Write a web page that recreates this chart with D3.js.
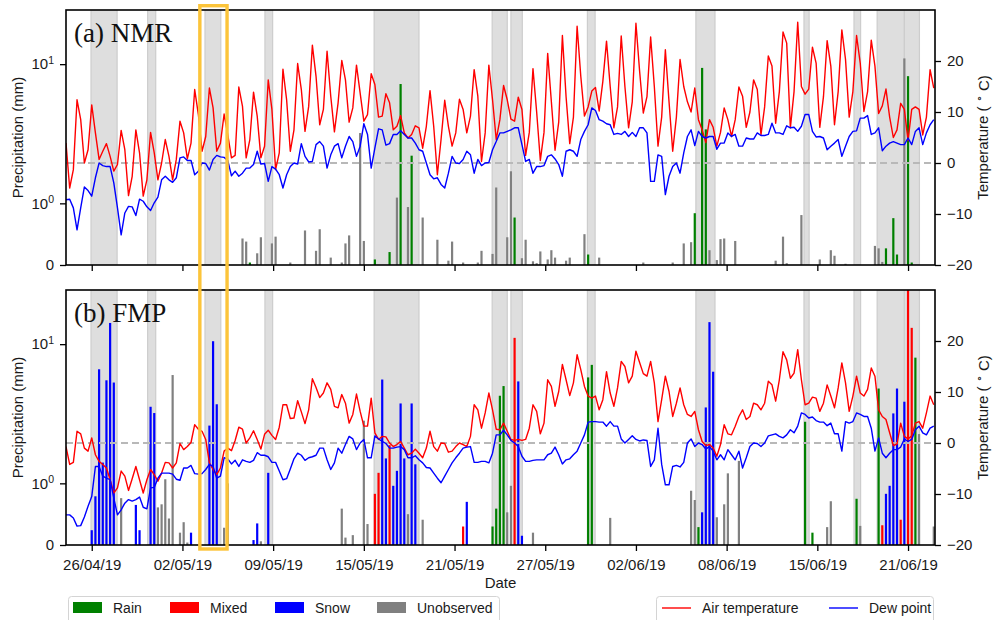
<!DOCTYPE html>
<html>
<head>
<meta charset="utf-8">
<script src="https://cdn.jsdelivr.net/npm/d3@7"></script>
<style>
  body { margin: 0; background: #fff; }
  svg { display: block; font-family: "Liberation Sans", Arial, Helvetica, sans-serif; }
</style>
</head>
<body>
<svg id="chart" width="993" height="620"></svg>
<script>
// ---- Time base: 6-hourly samples (UTC) ----
const seriesStart = "2019-04-25T00:00:00Z";
const stepHours = 6;
const axisEnd = "2019-06-23T02:00:00Z";

const xTickTimes = [
  "2019-04-26T18:00:00Z", "2019-05-02T22:00:00Z", "2019-05-09T02:00:00Z",
  "2019-05-15T06:00:00Z", "2019-05-21T10:00:00Z", "2019-05-27T14:00:00Z",
  "2019-06-02T18:00:00Z", "2019-06-08T22:00:00Z", "2019-06-15T02:00:00Z",
  "2019-06-21T06:00:00Z"
];
const precipTicks = [0, 1, 10];
const precipTickLabels = [["0", ""], ["10", "0"], ["10", "1"]];
const precipMax = 24.5;
const tempTicks = [-20, -10, 0, 10, 20];
const tempRange = [-20, 30];

// Event periods (in sample units), shared by both sites
const eventSpans = [
  [6.8, 13.9], [22.2, 24.4], [37.8, 42.1], [54.1, 56.2], [83.8, 96.0],
  [115.9, 120.0], [121.0, 124.1], [141.8, 143.9], [171.3, 176.5],
  [200.7, 202.1], [214.3, 216.1], [220.6, 228.0], [228.0, 232.1]
];
// Highlighted window (sample units)
const highlightWindow = [36.4, 43.8];

// ---- NMR: air temperature and dew point (°C), one row per day ----
const nmrAir = [
  3.9, -4.9, -1.3, 12.4,
  8.5, 0.0, 2.6, 11.4,
  5.9, 0.7, 2.3, 3.8,
  1.3, -1.6, -0.3, 6.4,
  2.6, -6.4, -2.6, 6.5,
  2.0, -6.5, -3.3, 6.0,
  2.0, -3.3, 0.0, 4.6,
  1.3, -3.3, 0.7, 8.2,
  5.9, 0.8, 3.9, 14.4,
  9.5, 2.3, 5.2, 14.7,
  10.8, 2.3, 3.9, 9.6,
  5.5, 1.0, 1.5, 14.9,
  11.1, 1.0, 4.6, 13.9,
  9.2, 1.0, 3.3, 16.3,
  10.5, -1.3, 2.0, 18.4,
  12.4, 2.3, 6.5, 19.5,
  14.4, 6.2, 11.1, 23.1,
  17.0, 7.5, 10.5, 21.9,
  13.1, 6.1, 11.8, 20.1,
  16.3, 8.0, 10.8, 19.2,
  13.7, 8.2, 9.5, 17.5,
  15.4, 9.0, 9.2, 13.6,
  11.8, 6.5, 7.2, 9.3,
  5.9, 4.9, 5.6, 7.3,
  6.9, 2.9, 7.2, 14.2,
  7.2, -2.3, 4.6, 12.3,
  7.2, 3.3, 5.9, 12.5,
  10.5, 5.9, 9.2, 18.3,
  13.1, 0.3, 5.9, 19.2,
  12.4, 4.6, 8.5, 15.2,
  12.4, 8.6, 8.2, 12.9,
  10.5, 1.5, 6.0, 18.5,
  10.0, 0.5, 6.0, 21.5,
  12.0, 2.5, 8.0, 25.0,
  13.0, 3.8, 9.0, 26.8,
  17.0, 9.2, 11.0, 14.1,
  14.8, 10.2, 16.0, 23.9,
  15.0, 6.9, 11.0, 24.9,
  15.0, 6.9, 12.0, 27.4,
  18.0, 9.8, 13.0, 24.7,
  15.0, 3.3, 9.0, 22.2,
  12.0, 2.3, 9.0, 20.3,
  15.0, 12.0, 10.0, 14.7,
  8.5, 6.5, 4.0, 8.5,
  7.0, 3.3, 6.0, 10.8,
  8.5, 5.2, 8.5, 14.9,
  13.1, 7.0, 10.0, 16.3,
  14.4, 5.5, 11.0, 21.0,
  19.0, 7.8, 14.0, 25.7,
  23.5, 6.9, 14.0, 27.6,
  15.0, 13.5, 14.5, 22.7,
  19.6, 7.0, 13.0, 24.0,
  19.0, 7.5, 14.0, 26.1,
  20.3, 9.0, 14.0, 25.0,
  19.6, 10.1, 14.0, 24.1,
  19.0, 9.7, 11.2, 14.5,
  9.0, 5.0, 6.5, 11.7,
  10.5, 4.4, 10.5, 11.0,
  10.5, 5.5, 9.0, 18.3, 14.7
];
const nmrDew = [
  -7.2, -7.1, -8.8, -13.1,
  -8.8, -4.7, -5.4, -6.5,
  -2.9, 0.0, -0.5, -0.7,
  -0.7, -3.9, -8.8, -14.1,
  -9.8, -8.5, -8.6, -10.3,
  -7.1, -7.5, -8.6, -9.3,
  -7.8, -6.7, -3.3, -2.6,
  -3.3, -3.8, -2.9, 1.0,
  1.2, 0.5, 0.5, -2.3,
  -1.6, 0.0, -0.1, -1.4,
  0.7, 1.5, 1.2, 1.1,
  0.5, -2.5, -1.6, -2.6,
  -2.0, -1.0, -1.0, -0.3,
  2.3, -0.2, -0.1, -3.6,
  -0.7, -1.2, -2.3, -4.9,
  -2.3, -0.7, 0.0, -0.2,
  3.8, 1.3, 0.2, 0.3,
  3.6, 4.2, 3.3, -1.0,
  1.6, 3.3, 3.8, 1.0,
  3.3, 5.2, 4.2, 1.3,
  3.3, 7.7, 5.6, -1.0,
  2.9, 6.7, 6.5, 3.5,
  3.8, 5.6, 5.6, 6.3,
  5.6, 4.9, 4.9, 3.9,
  2.6, 2.3, 0.0, -2.3,
  -3.1, -2.9, -4.2, -4.9,
  -2.0, 1.3, 0.0, -0.1,
  0.7, 2.3, 1.6, -2.0,
  0.7, -0.5, 0.0, 0.1,
  2.6, 4.2, 5.9, 5.9,
  6.2, 6.5, 6.9, 6.9,
  3.6, 0.3, 0.7, -2.0,
  -0.7, -0.7, -0.5, 1.3,
  1.6, 0.8, -0.3, -2.6,
  2.3, 2.6, 2.3, 1.3,
  4.6, 6.2, 7.5, 10.8,
  10.3, 8.5, 8.2, 7.7,
  7.5, 5.6, 5.8, 5.6,
  6.2, 5.2, 6.0, 5.2,
  6.9, 6.9, 5.9, -3.6,
  -3.6, 1.6, 1.3, -6.2,
  -2.6, -0.7, 0.0, -2.0,
  2.0, 5.2, 6.5, 3.4,
  6.2, 5.2, 4.9, 5.2,
  5.2, 2.7, 3.9, 3.9,
  5.9, 5.2, 5.6, 3.3,
  3.3, 4.9, 4.7, 4.7,
  5.9, 5.4, 5.4, 5.6,
  7.8, 5.9, 5.9, 5.6,
  7.3, 6.9, 7.0, 6.2,
  7.2, 9.5, 9.5, 6.2,
  5.1, 5.2, 4.9, 2.6,
  3.3, 3.9, 4.6, 1.3,
  3.3, 5.2, 6.2, 6.3,
  8.8, 8.8, 9.3, 5.6,
  5.9, 6.9, 2.4, 3.3,
  3.9, 4.2, 3.9, 3.6,
  3.6, 4.9, 3.6, 6.2,
  6.9, 3.6, 5.9, 7.5, 8.5
];

// ---- FMP: air temperature and dew point (°C), one row per day ----
const fmpAir = [
  -0.7, -4.2, -3.8, 2.3,
  1.8, -1.0, -1.6, 1.0,
  -2.3, -3.6, -4.2, -4.9,
  -7.2, -9.8, -8.8, -5.5,
  -6.5, -9.3, -7.0, -4.6,
  -7.2, -9.8, -7.2, -5.2,
  -6.2, -7.5, -5.9, -3.8,
  -3.9, -4.9, -3.9, -0.1,
  -1.3, -0.7, 0.1, 3.6,
  2.7, 2.3, 0.7, -3.9,
  -5.2, -6.2, -4.9, -1.6,
  -1.0, -1.5, 0.5, 3.1,
  2.7, 0.0, 1.0, 2.4,
  0.7, -1.2, 1.7, 2.5,
  1.5, 0.7, 3.1, 7.5,
  7.5, 4.8, 4.9, 8.3,
  6.1, 3.8, 6.5, 12.6,
  10.9, 8.9, 9.8, 11.8,
  10.5, 7.2, 6.9, 9.5,
  7.8, 3.9, 5.6, 9.6,
  6.2, 3.3, 3.3, 8.8,
  2.0, 0.7, 1.3, 1.2,
  0.0, -0.7, -0.3, 0.3,
  -1.0, -2.3, -2.0, -1.2,
  -2.0, -2.9, -1.0, 2.3,
  -0.7, -1.6, 0.0, -0.1,
  -1.8, -1.6, -0.7, 0.0,
  -0.3, -0.7, 1.3, 7.5,
  6.5, 2.9, 5.9, 9.8,
  6.5, 2.7, 2.6, 3.9,
  2.3, 0.7, 0.5, 0.7,
  0.5, 0.7, 2.9, 7.5,
  6.2, 1.8, 3.9, 12.4,
  11.1, 7.2, 10.1, 15.4,
  12.4, 9.3, 11.8, 17.3,
  14.4, 11.1, 9.2, 8.8,
  9.2, 6.5, 8.5, 14.0,
  9.8, 7.2, 10.8, 16.0,
  15.0, 11.8, 13.1, 18.0,
  15.8, 13.6, 13.1, 16.0,
  11.8, 4.2, 8.5, 13.1,
  10.1, 5.2, 7.8, 10.8,
  7.5, 5.6, 5.2, 6.2,
  2.6, 0.3, -0.5, -0.3,
  -1.0, -2.6, -0.3, 3.6,
  1.8, 1.6, 3.3, 5.2,
  6.5, 4.6, 5.2, 7.8,
  7.5, 6.5, 7.8, 12.1,
  11.4, 8.2, 12.4, 17.9,
  16.3, 12.7, 13.7, 18.3,
  12.4, 7.5, 7.8, 9.0,
  8.8, 6.2, 7.8, 11.4,
  9.2, 6.9, 10.8, 15.7,
  11.8, 6.2, 9.2, 13.1,
  9.8, 9.2, 10.5, 14.7,
  13.1, 6.5, 5.2, 4.6,
  2.0, -0.5, -0.2, 3.9,
  1.3, 0.8, 1.4, 3.9,
  4.2, 2.9, 5.9, 9.2, 7.5
];
const fmpDew = [
  -14.1, -14.1, -14.7, -16.3,
  -16.2, -14.5, -12.4, -10.5,
  -4.6, -4.6, -6.5, -6.9,
  -7.2, -10.8, -14.1, -13.1,
  -11.8, -11.1, -11.4, -11.1,
  -10.6, -12.6, -12.9, -8.8,
  -8.7, -6.9, -5.9, -5.9,
  -5.9, -6.1, -7.1, -7.3,
  -4.9, -4.9, -4.4, -6.0,
  -6.1, -6.0, -5.2, -4.2,
  -4.6, -6.9, -6.5, -2.9,
  -3.1, -4.1, -3.4, -4.6,
  -3.3, -3.6, -3.8, -3.4,
  -1.9, -2.4, -2.4, -2.7,
  -3.8, -3.8, -5.5, -7.2,
  -7.0, -5.1, -3.1, -2.0,
  -2.4, -3.4, -2.9, -2.7,
  -2.4, -1.0, -1.0, -3.3,
  -5.2, -3.9, -1.0, -2.0,
  -0.3, 1.3, 0.8, -1.3,
  0.0, 0.7, -2.9, -2.9,
  1.4, 0.8, 0.3, -0.1,
  -1.0, -1.0, -0.8, -0.7,
  -1.3, -2.9, -2.9, -2.5,
  -3.3, -3.9, -4.8, -4.9,
  -5.9, -6.9, -7.8, -6.5,
  -5.2, -3.9, -2.9, -2.0,
  -1.0, -0.8, -0.7, -3.8,
  -3.8, -3.6, -3.6, -3.9,
  -2.0, 1.6, 1.6, 2.5,
  1.6, 0.5, 0.0, -0.7,
  -2.6, -3.6, -3.6, -3.4,
  -3.3, -3.3, -3.3, -2.3,
  -2.0, -0.8, -2.3, -4.1,
  -3.3, -3.1, -2.3, -1.6,
  0.0, 1.6, 4.1, 4.2,
  4.2, 4.1, 4.1, 3.3,
  4.2, 3.3, 3.3, 0.8,
  0.0, 0.7, 1.4, 0.7,
  0.4, 0.6, 0.5, -4.6,
  -3.3, 2.9, -4.2, -8.2,
  -8.2, -4.6, -4.4, -4.7,
  -3.8, 0.0, 0.8, -0.7,
  0.0, -0.3, -1.2, -0.7,
  -1.6, -3.3, -2.3, -3.3,
  -1.3, -2.3, -3.3, -1.6,
  -4.9, -2.9, -0.7, 0.0,
  -0.1, -0.7, 0.0, 1.4,
  1.6, 1.8, 1.3, 1.0,
  1.6, 2.6, 2.0, 3.3,
  5.9, 5.6, 4.9, 5.1,
  4.4, 4.1, 4.1, 3.4,
  3.9, 1.8, 1.8, -1.6,
  4.2, 3.9, 4.2, 5.9,
  5.6, 5.2, 5.2, 2.9,
  -1.6, 1.0, -2.0, -2.9,
  -2.0, -1.3, -1.3, -0.8,
  0.8, 0.3, 0.7, 2.6,
  3.3, 2.0, 1.6, 2.9, 3.3
];

// ---- Precipitation per 6-h sample (mm): sample index, amount, phase ----
// phase: R = rain, M = mixed, S = snow, U = unobserved
const nmrPrecipIdx = [48, 49, 50, 52, 53, 56, 57, 61, 65, 68, 69, 72, 75, 76, 77, 80, 81, 84, 88, 90,
  91, 93, 94, 97, 101, 104, 105, 108, 112, 113, 116, 117, 120, 121, 122, 124, 125, 127, 128, 129,
  131, 132, 133, 136, 137, 141, 142, 145, 157, 165, 168, 170, 171, 173, 174, 175, 177, 178, 179, 182,
  193, 195, 196, 200, 205, 208, 209, 212, 220, 221, 222, 223, 225, 226, 228, 229, 230];
const nmrPrecipMm = [0.43, 0.38, 0.04, 0.19, 0.45, 0.35, 0.46, 0.04, 0.56, 0.23, 0.58, 0.12, 0.04, 0.35, 0.48, 3.2, 0.39, 0.09, 0.21, 1.1,
  7.2, 0.94, 2.2, 0.77, 0.41, 0.07, 0.38, 0.04, 0.04, 0.23, 0.18, 1.3, 0.45, 1.7, 0.77, 0.11, 0.41, 0.06, 0.03, 0.22,
  0.09, 0.24, 0.12, 0.07, 0.12, 0.50, 0.17, 0.12, 0.04, 0.04, 0.35, 0.37, 0.84, 9.4, 3.4, 0.24, 0.08, 0.42, 0.43, 0.39,
  0.07, 0.46, 0.03, 0.81, 0.09, 0.24, 0.15, 0.02, 0.31, 0.27, 0.05, 0.27, 0.76, 0.17, 11.0, 8.2, 0.04];
const nmrPrecipPhase = ["U", "U", "R", "U", "U", "U", "U", "U", "U", "U", "U", "U", "U", "U", "U", "U", "U", "R", "R", "U",
  "R", "U", "R", "U", "U", "U", "U", "U", "U", "U", "U", "U", "U", "U", "R", "U", "U", "U", "U", "U",
  "U", "U", "U", "U", "U", "U", "R", "U", "U", "U", "U", "U", "R", "R", "R", "U", "U", "U", "U", "U",
  "U", "U", "U", "U", "U", "U", "U", "U", "U", "U", "U", "R", "R", "R", "U", "R", "R"];

const fmpPrecipIdx = [7, 8, 9, 10, 11, 12, 13, 15, 19, 20, 23, 24, 25, 26, 27, 28, 29, 31, 32, 33,
  34, 39, 40, 41, 43, 44, 51, 52, 53, 55, 75, 76, 78, 81, 82, 84, 85, 86, 87, 88,
  89, 90, 91, 92, 93, 94, 95, 97, 108, 109, 116, 117, 118, 119, 120, 121, 122, 123, 124, 127,
  142, 143, 148, 170, 171, 172, 173, 174, 175, 176, 177, 179, 180, 183, 201, 203, 207, 208, 215, 216,
  221, 222, 223, 224, 225, 226, 227, 228, 229, 230, 231, 232, 236];
const fmpPrecipMm = [0.24, 0.79, 6.6, 1.41, 5.5, 14.2, 5.3, 0.76, 0.65, 0.24, 3.55, 3.2, 0.61, 0.66, 1.07, 0.43, 6.0, 0.2, 0.37, 0.04,
  0.2, 2.6, 10.5, 3.7, 0.28, 1.0, 0.08, 0.35, 0.06, 1.19, 0.59, 0.12, 0.16, 2.82, 0.34, 0.83, 1.19, 5.57, 1.51, 1.88,
  0.96, 1.23, 3.75, 1.51, 0.50, 3.75, 1.37, 0.41, 0.30, 0.70, 0.30, 0.59, 4.26, 5.0, 0.53, 0.96, 11.1, 5.4, 0.15, 0.2,
  5.77, 7.1, 0.44, 0.88, 0.73, 0.29, 0.53, 3.51, 14.4, 6.34, 0.45, 0.66, 1.18, 1.45, 2.77, 0.2, 0.29, 0.71, 0.75, 0.31,
  4.8, 0.32, 0.83, 0.96, 3.18, 4.8, 0.41, 3.86, 26.0, 13.1, 8.0, 2.26, 0.3];
const fmpPrecipPhase = ["S", "S", "S", "S", "S", "S", "S", "U", "S", "S", "S", "S", "U", "U", "U", "U", "U", "U", "U", "U",
  "S", "S", "S", "S", "U", "U", "S", "S", "U", "S", "U", "U", "U", "U", "U", "M", "M", "S", "S", "M",
  "S", "S", "S", "S", "U", "S", "S", "U", "M", "S", "R", "R", "R", "R", "U", "U", "M", "S", "S", "U",
  "R", "R", "U", "U", "U", "R", "S", "S", "S", "S", "U", "U", "U", "U", "R", "R", "U", "U", "R", "U",
  "R", "M", "S", "S", "S", "S", "M", "S", "M", "M", "R", "U", "U"];

const phaseColor = { R: "#008000", M: "#ff0000", S: "#0000ff", U: "#808080" };
const legendPhases = [["R", "Rain"], ["M", "Mixed"], ["S", "Snow"], ["U", "Unobserved"]];
const legendLines = [["#ff0000", "Air temperature"], ["#0000ff", "Dew point"]];

// ---- Layout ----
const plotLeft = 66, plotRight = 935;
const panels = [
  { top: 10, bottom: 265, label: "(a) NMR", air: nmrAir, dew: nmrDew,
    idx: nmrPrecipIdx, mm: nmrPrecipMm, phase: nmrPrecipPhase, showDates: false },
  { top: 290, bottom: 545, label: "(b) FMP", air: fmpAir, dew: fmpDew,
    idx: fmpPrecipIdx, mm: fmpPrecipMm, phase: fmpPrecipPhase, showDates: true }
];

const svg = d3.select("#chart");
const t0 = new Date(seriesStart);
const sampleTime = k => new Date(t0.getTime() + k * stepHours * 3600e3);
const x = d3.scaleUtc().domain([t0, new Date(axisEnd)]).range([plotLeft, plotRight]);

// Precipitation axis: linear below 1 mm, logarithmic above
const LIN = 0.443;
const symT = v => (v <= 1 ? v * LIN : LIN + Math.log10(v));

const fmtDate = d3.utcFormat("%d/%m/%y");
const textColor = "#1a1a1a";

panels.forEach((p, pi) => {
  const yP = d3.scaleLinear().domain([0, symT(precipMax)]).range([p.bottom, p.top]);
  const yT = d3.scaleLinear().domain(tempRange).range([p.bottom, p.top]);
  const g = svg.append("g");

  const clipId = "clip" + pi;
  svg.append("clipPath").attr("id", clipId)
    .append("rect").attr("x", plotLeft).attr("y", p.top)
    .attr("width", plotRight - plotLeft).attr("height", p.bottom - p.top);
  const plot = g.append("g").attr("clip-path", `url(#${clipId})`);

  // event shading
  plot.selectAll("rect.span").data(eventSpans).join("rect")
    .attr("x", d => x(sampleTime(d[0])))
    .attr("width", d => x(sampleTime(d[1])) - x(sampleTime(d[0])))
    .attr("y", p.top).attr("height", p.bottom - p.top)
    .attr("fill", "#dedede").attr("stroke", "#cdcdcd").attr("stroke-width", 1.2);

  // precipitation bars
  const bars = p.idx.map((k, i) => ({ k, v: p.mm[i], ph: p.phase[i] }));
  plot.selectAll("rect.bar").data(bars).join("rect")
    .attr("x", d => x(sampleTime(d.k)) - 1.1)
    .attr("width", 2.2)
    .attr("y", d => yP(symT(d.v)))
    .attr("height", d => p.bottom - yP(symT(d.v)))
    .attr("fill", d => phaseColor[d.ph]);

  // 0 °C reference
  plot.append("line")
    .attr("x1", plotLeft).attr("x2", plotRight)
    .attr("y1", yT(0)).attr("y2", yT(0))
    .attr("stroke", "#b8b8b8").attr("stroke-width", 1.8)
    .attr("stroke-dasharray", "7,4");

  // temperature lines
  const line = d3.line().x((d, i) => x(sampleTime(i))).y(d => yT(d));
  plot.append("path").datum(p.air).attr("d", line)
    .attr("fill", "none").attr("stroke", "#ff0000").attr("stroke-width", 1.4)
    .attr("stroke-linejoin", "round");
  plot.append("path").datum(p.dew).attr("d", line)
    .attr("fill", "none").attr("stroke", "#0000ff").attr("stroke-width", 1.4)
    .attr("stroke-linejoin", "round");

  // frame
  g.append("rect").attr("x", plotLeft).attr("y", p.top)
    .attr("width", plotRight - plotLeft).attr("height", p.bottom - p.top)
    .attr("fill", "none").attr("stroke", "#000").attr("stroke-width", 1.6);

  // bottom axis
  const xAxis = d3.axisBottom(x)
    .tickValues(xTickTimes.map(d => new Date(d)))
    .tickSize(6).tickPadding(8)
    .tickFormat(p.showDates ? fmtDate : () => "");
  const gx = g.append("g").attr("transform", `translate(0,${p.bottom})`).call(xAxis);

  // left axis (precipitation)
  const yAxisL = d3.axisLeft(yP).tickValues(precipTicks.map(symT)).tickSize(6).tickPadding(6);
  const gl = g.append("g").attr("transform", `translate(${plotLeft},0)`).call(yAxisL);
  gl.selectAll(".tick text").each(function (d, i) {
    const t = d3.select(this);
    t.text(null);
    const lab = precipTickLabels[i];
    t.append("tspan").text(lab[0]);
    if (lab[1]) t.append("tspan").attr("dy", "-0.55em").attr("font-size", "10.5px").text(lab[1]);
  });

  // right axis (temperature)
  const yAxisR = d3.axisRight(yT).tickValues(tempTicks).tickSize(6).tickPadding(6)
    .tickFormat(d => (d < 0 ? "\u2212" + Math.abs(d) : String(d)));
  const gr = g.append("g").attr("transform", `translate(${plotRight},0)`).call(yAxisR);

  [gx, gl, gr].forEach(a => {
    a.select(".domain").remove();
    a.selectAll(".tick line").attr("stroke", "#000").attr("stroke-width", 1.3);
    a.selectAll(".tick text").attr("font-size", "15px").attr("fill", textColor)
      .attr("font-family", "'Liberation Sans', Arial, sans-serif");
  });

  // panel title
  g.append("text").attr("x", 74).attr("y", p.top + 31.5)
    .attr("font-family", "'Liberation Serif', 'Times New Roman', serif")
    .attr("font-size", "27px").attr("fill", "#111").text(p.label);

  const midY = (p.top + p.bottom) / 2;
  g.append("text").attr("transform", `translate(23,${midY}) rotate(-90)`)
    .attr("text-anchor", "middle").attr("font-size", "15px").attr("fill", textColor)
    .text("Precipitation (mm)");

  const tl = g.append("text").attr("transform", `translate(987.5,${midY}) rotate(-90)`)
    .attr("text-anchor", "middle").attr("font-size", "15px").attr("fill", textColor);
  tl.append("tspan").text("Temperature ( ");
  tl.append("tspan").attr("dy", "-0.45em").attr("font-size", "11px").text("\u2218");
  tl.append("tspan").attr("dy", "0.45em").text(" C)");
});

// x-axis title
svg.append("text").attr("x", (plotLeft + plotRight) / 2).attr("y", 588)
  .attr("text-anchor", "middle").attr("font-size", "15px").attr("fill", textColor).text("Date");

// highlighted window
svg.append("rect")
  .attr("x", x(sampleTime(highlightWindow[0])))
  .attr("width", x(sampleTime(highlightWindow[1])) - x(sampleTime(highlightWindow[0])))
  .attr("y", panels[0].top - 4.3)
  .attr("height", panels[1].bottom + 4 - (panels[0].top - 4.3))
  .attr("fill", "none").attr("stroke", "#fcc43a").attr("stroke-width", 3.4);

// legends
const legL = svg.append("g");
legL.append("rect").attr("x", 68.5).attr("y", 596.5).attr("width", 431).attr("height", 32).attr("rx", 3)
  .attr("fill", "#fff").attr("stroke", "#d4d4d4").attr("stroke-width", 1);
const patchX = [73, 170, 275, 377];
legendPhases.forEach(([ph, name], i) => {
  legL.append("rect").attr("x", patchX[i]).attr("y", 602).attr("width", 29).attr("height", 11)
    .attr("fill", phaseColor[ph]);
  legL.append("text").attr("x", patchX[i] + 40).attr("y", 613).attr("font-size", "14px")
    .attr("fill", textColor).text(name);
});

const legR = svg.append("g");
legR.append("rect").attr("x", 656.5).attr("y", 596.5).attr("width", 277).attr("height", 32).attr("rx", 3)
  .attr("fill", "#fff").attr("stroke", "#d4d4d4").attr("stroke-width", 1);
const lineX = [662, 829];
legendLines.forEach(([c, name], i) => {
  legR.append("line").attr("x1", lineX[i]).attr("x2", lineX[i] + 29).attr("y1", 608).attr("y2", 608)
    .attr("stroke", c).attr("stroke-width", 1.4);
  legR.append("text").attr("x", lineX[i] + 40).attr("y", 613).attr("font-size", "14px")
    .attr("fill", textColor).text(name);
});
</script>
</body>
</html>
